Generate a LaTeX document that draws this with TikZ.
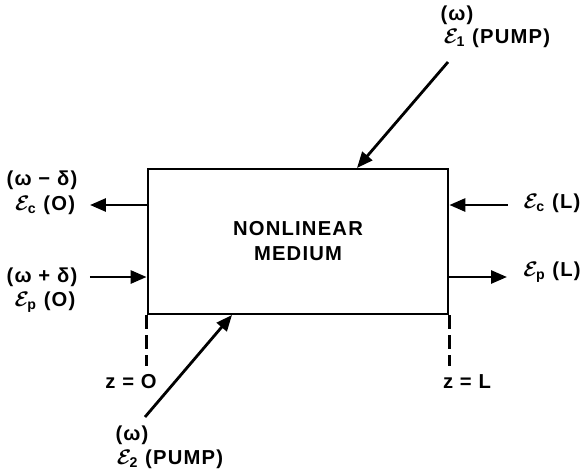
\documentclass[tikz,border=0pt]{standalone}
\usepackage{amsmath}
\usepackage{fontspec}
\setmainfont{Liberation Sans}[LetterSpace=6]
\usepackage{tikz}
\usetikzlibrary{arrows.meta,calc}
\tikzset{
  mediumbox/.style={draw=black, line width=1.6pt, fill=white, align=center,
    minimum width=6cm, minimum height=2.9cm, inner sep=0pt,
    font=\fontsize{11.5}{14.2}\selectfont\bfseries},
  lbl/.style={inner sep=0pt, font=\fontsize{11.5}{13}\selectfont\bfseries\boldmath},
  flow/.style={-{Triangle[length=0.32cm, width=0.26cm]}, draw=black, line width=1.6pt},
  zline/.style={draw=black, line width=1.6pt, dash pattern=on 0.28cm off 0.12cm},
}
\newcommand{\fld}[1]{$\mathcal{E}_{\text{#1}}$}

\begin{document}
\begin{tikzpicture}[x=0.02cm, y=-0.02cm]
  \useasboundingbox (0,0) rectangle (583,471);
  % medium
  \node[mediumbox] (medium) at (298,241.5) {NONLINEAR\\MEDIUM};
  % left side, z = 0
  \node[lbl] (freqcO)  at (42,180) {(ω − δ)};
  \node[lbl] (fieldcO) at (45,205) {\fld{c} (O)};
  \node[lbl] (freqpO)  at (42,277) {(ω + δ)};
  \node[lbl] (fieldpO) at (45,302) {\fld{p} (O)};
  % right side, z = L
  \node[lbl] (fieldcL) at (552,203) {\fld{c} (L)};
  \node[lbl] (fieldpL) at (552,272) {\fld{p} (L)};
  % pumps
  \node[lbl] (freqone) at (457,15)  {(ω)};
  \node[lbl] (pumpone) at (497,38)  {\fld{1} (PUMP)};
  \node[lbl] (freqtwo) at (132,435) {(ω)};
  \node[lbl] (pumptwo) at (170,459) {\fld{2} (PUMP)};
  % planes
  \node[lbl] (zzero) at (131,382) {z = O};
  \node[lbl] (zlen)  at (467,382) {z = L};

  \coordinate (cOtip)  at (90,205);
  \coordinate (pOtail) at (90,277);
  \coordinate (cLtail) at (508,205);
  \coordinate (pLtip)  at (507,277);
  \coordinate (onetail) at (448,62);
  \coordinate (onetip)  at (357,168);
  \coordinate (twotail) at (145,417);
  \coordinate (twotip)  at (232,315);

  \draw[flow] (medium.west |- cOtip) -- (cOtip);
  \draw[flow] (pOtail) -- (medium.west |- pOtail);
  \draw[flow] (cLtail) -- (medium.east |- cLtail);
  \draw[flow] (medium.east |- pLtip) -- (pLtip);
  \draw[flow] (onetail) -- (onetip);
  \draw[flow] (twotail) -- (twotip);

  \draw[zline] (medium.south west) -- ++(0,51) coordinate (zzerotop);
  \draw[zline] (medium.south east) -- ++(0,51) coordinate (zlentop);
\end{tikzpicture}
\end{document}
